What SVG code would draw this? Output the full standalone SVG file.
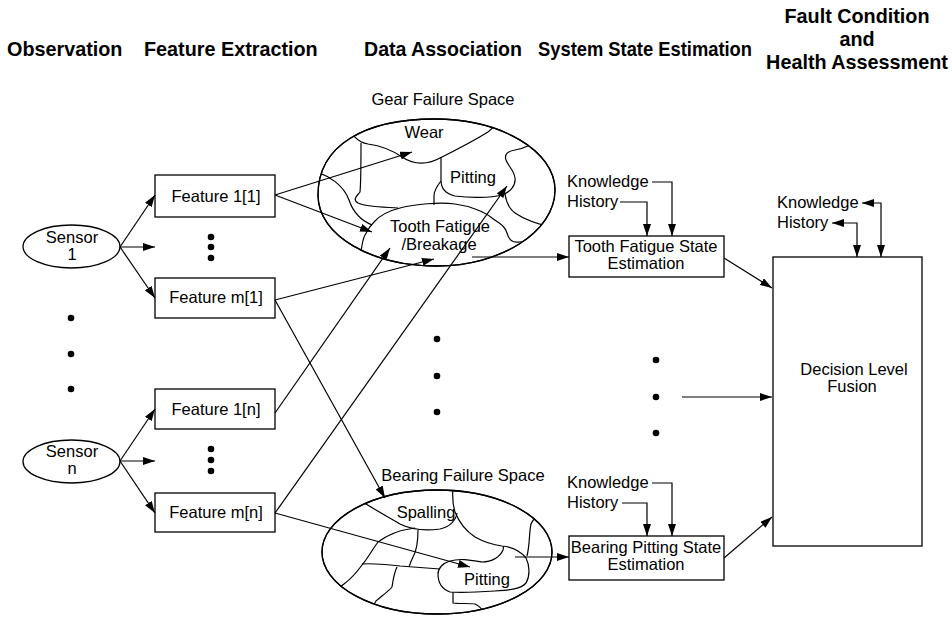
<svg xmlns="http://www.w3.org/2000/svg" width="952" height="619" viewBox="0 0 952 619">
  <style>
    .hdr { font-family: "Liberation Sans", Arial, sans-serif; font-size: 19.8px; font-weight: bold; fill: #000; }
    .lbl { font-family: "Liberation Sans", Arial, sans-serif; font-size: 16.5px; fill: #000; }
    .mid { text-anchor: middle; }
    .box { fill: #fff; stroke: #000; stroke-width: 1.3; }
    .shape { fill: #fff; stroke: #000; stroke-width: 1.3; }
    .region { fill: none; stroke: #000; stroke-width: 1.2; }
    .edge { fill: none; stroke: #000; stroke-width: 1.2; marker-end: url(#ah); }
    .edge2 { fill: none; stroke: #000; stroke-width: 1.2; marker-start: url(#ah); marker-end: url(#ah); }
    .dot { fill: #000; }
  </style>
  <defs>
    <marker id="ah" viewBox="0 0 12 8" refX="12" refY="4" markerWidth="12" markerHeight="8" markerUnits="userSpaceOnUse" orient="auto-start-reverse">
      <path d="M0,0 L12,4 L0,8 Z" fill="#000"/>
    </marker>
    <path id="gearShape" d="M318,195 C318,145 365,119 435,119 C501,119 555,151 555,190 C555,232 500,266 437,266 C372,266 318,236 318,195 Z"/>
    <ellipse id="bearingShape" cx="437" cy="552" rx="115" ry="62"/>
    <clipPath id="gearClip"><use href="#gearShape"/></clipPath>
    <clipPath id="bearingClip"><use href="#bearingShape"/></clipPath>
  </defs>

  <!-- column headings -->
  <g id="headings">
    <text class="hdr" x="7" y="56">Observation</text>
    <text class="hdr" x="144" y="56">Feature Extraction</text>
    <text class="hdr mid" x="443" y="56" textLength="158" lengthAdjust="spacingAndGlyphs">Data Association</text>
    <text class="hdr mid" x="645" y="56" textLength="214" lengthAdjust="spacingAndGlyphs">System State Estimation</text>
    <text class="hdr mid" x="857" y="23">Fault Condition</text>
    <text class="hdr mid" x="857" y="46">and</text>
    <text class="hdr mid" x="857" y="69">Health Assessment</text>
  </g>

  <!-- sensors -->
  <g id="sensor-1">
    <ellipse class="shape" cx="71.5" cy="246.5" rx="48.5" ry="21.5"/>
    <text class="lbl mid" x="72" y="243">Sensor</text>
    <text class="lbl mid" x="72" y="260">1</text>
  </g>
  <g id="sensor-n">
    <ellipse class="shape" cx="71.5" cy="461.5" rx="48.5" ry="21.5"/>
    <text class="lbl mid" x="72" y="457">Sensor</text>
    <text class="lbl mid" x="72" y="474">n</text>
  </g>
  <g id="sensor-dots">
    <circle class="dot" cx="71" cy="318" r="3.3"/>
    <circle class="dot" cx="71" cy="354" r="3.3"/>
    <circle class="dot" cx="71" cy="389" r="3.3"/>
  </g>

  <!-- features -->
  <g id="feature-1-1">
    <rect class="box" x="155" y="175" width="120" height="42"/>
    <text class="lbl mid" x="216" y="202">Feature 1[1]</text>
  </g>
  <g id="feature-m-1">
    <rect class="box" x="155" y="278" width="120" height="40"/>
    <text class="lbl mid" x="216" y="303">Feature m[1]</text>
  </g>
  <g id="feature-1-n">
    <rect class="box" x="155" y="389" width="120" height="40"/>
    <text class="lbl mid" x="216" y="415">Feature 1[n]</text>
  </g>
  <g id="feature-m-n">
    <rect class="box" x="155" y="493" width="120" height="39"/>
    <text class="lbl mid" x="216" y="518">Feature m[n]</text>
  </g>
  <g id="feature-dots">
    <circle class="dot" cx="211" cy="237" r="3.3"/>
    <circle class="dot" cx="211" cy="247" r="3.3"/>
    <circle class="dot" cx="211" cy="258" r="3.3"/>
    <circle class="dot" cx="211" cy="449" r="3.3"/>
    <circle class="dot" cx="211" cy="460" r="3.3"/>
    <circle class="dot" cx="211" cy="471" r="3.3"/>
  </g>

  <!-- gear failure space -->
  <g id="gear-failure-space">
    <text class="lbl mid" x="443" y="105">Gear Failure Space</text>
    <use href="#gearShape" class="shape"/>
    <g clip-path="url(#gearClip)">
      <path class="region" d="M345,122 C352,134 356,142 368,144 C382,146 392,150 402,157 C414,165 428,165 442,157 C458,149 475,140 488,132 C495,127 500,118 505,110"/>
      <path class="region" d="M361,143 C361,160 361,182 360,192 C357,196 352,199 358,203 C366,207 382,207 398,208"/>
      <path class="region" d="M310,170 C330,175 344,186 349,200 C353,212 360,220 372,225"/>
      <path class="region" d="M360,262 C361,250 362,240 365,235 C368,229 370,226 374,222 C380,215 388,211 400,208 C415,204 440,202 455,204 C470,206 485,212 492,218 C500,224 505,226 507,233 C509,240 512,243 520,242 C532,241 548,238 565,236"/>
      <path class="region" d="M441,157 L441,180 C441,188 446,194 455,196 C470,198 490,198 502,195 C510,192 516,186 515,178 C514,170 508,166 506,160 C504,154 508,151 515,150 C523,149 532,145 545,136"/>
      <path class="region" d="M441,181 C437,186 434,190 434,196 L434,205"/>
      <path class="region" d="M505,194 C506,201 508,208 515,213 C525,220 542,226 565,230"/>
    </g>
    <use href="#gearShape" fill="none" stroke="#000" stroke-width="1.3"/>
    <text class="lbl mid" x="424" y="138">Wear</text>
    <text class="lbl mid" x="473" y="183">Pitting</text>
    <text class="lbl mid" x="440" y="232">Tooth Fatigue</text>
    <text class="lbl mid" x="439" y="250">/Breakage</text>
  </g>

  <!-- bearing failure space -->
  <g id="bearing-failure-space">
    <text class="lbl mid" x="463" y="481">Bearing Failure Space</text>
    <use href="#bearingShape" class="shape"/>
    <g clip-path="url(#bearingClip)">
      <path class="region" d="M350,494 C368,506 385,515 400,524 C410,529 425,531 440,529 C450,527 456,520 457,513"/>
      <path class="region" d="M418,530 C418,540 417,550 413,557 C411,561 410,564 409,567"/>
      <path class="region" d="M415,528 C400,530 387,535 378,542 C372,550 368,558 362,565 C357,572 352,578 344,584 C338,589 332,592 322,598"/>
      <path class="region" d="M362,564 C375,563 390,565 400,566 C415,567 428,568 440,569"/>
      <path class="region" d="M397,567 C394,573 393,580 392,587 C388,592 380,597 376,601 C373,605 372,610 372,620"/>
      <path class="region" d="M454,480 C452,492 452,502 455,512 C459,522 466,531 475,537 C484,542 494,545 502,546 C513,547 521,552 526,558 C530,566 530,576 526,583 C521,589 510,590 495,591 C480,592 462,593 450,592 C442,589 438,582 438,574 C438,568 443,563 450,561 C460,558 470,560 482,562 C492,562 500,557 503,550 C504,547 503,546 502,546"/>
      <path class="region" d="M527,556 C530,544 529,532 531,524 C533,519 537,515 545,508"/>
      <path class="region" d="M453,592 L453,603 C460,604 468,603 475,604 C480,606 484,610 486,620"/>
    </g>
    <use href="#bearingShape" fill="none" stroke="#000" stroke-width="1.3"/>
    <text class="lbl mid" x="426" y="518">Spalling</text>
    <text class="lbl mid" x="487" y="585">Pitting</text>
  </g>

  <g id="association-dots">
    <circle class="dot" cx="437" cy="339" r="3.3"/>
    <circle class="dot" cx="437" cy="376" r="3.3"/>
    <circle class="dot" cx="437" cy="412" r="3.3"/>
  </g>

  <!-- state estimators -->
  <g id="tooth-fatigue-state">
    <rect class="box" x="569" y="236" width="155" height="41"/>
    <text class="lbl mid" x="646" y="252">Tooth Fatigue State</text>
    <text class="lbl mid" x="646" y="269">Estimation</text>
  </g>
  <g id="tooth-inputs">
    <text class="lbl" x="567" y="187">Knowledge</text>
    <text class="lbl" x="567" y="207">History</text>
  </g>
  <g id="bearing-pitting-state">
    <rect class="box" x="569" y="536" width="155" height="44"/>
    <text class="lbl mid" x="646" y="553">Bearing Pitting State</text>
    <text class="lbl mid" x="646" y="570">Estimation</text>
  </g>
  <g id="bearing-inputs">
    <text class="lbl" x="567" y="488">Knowledge</text>
    <text class="lbl" x="567" y="508">History</text>
  </g>
  <g id="state-dots">
    <circle class="dot" cx="656" cy="360" r="3.3"/>
    <circle class="dot" cx="656" cy="397" r="3.3"/>
    <circle class="dot" cx="656" cy="433" r="3.3"/>
  </g>

  <!-- decision fusion -->
  <g id="decision-level-fusion">
    <rect class="box" x="773" y="257" width="149" height="289"/>
    <text class="lbl mid" x="854" y="375">Decision Level</text>
    <text class="lbl mid" x="852" y="392">Fusion</text>
  </g>
  <g id="fusion-inputs">
    <text class="lbl" x="777" y="208">Knowledge</text>
    <text class="lbl" x="777" y="228">History</text>
  </g>

  <!-- connectors -->
  <g id="connectors">
    <path class="edge" d="M120,247 L155,195"/>
    <path class="edge" d="M120,247 L155,247"/>
    <path class="edge" d="M120,247 L155,298"/>
    <path class="edge" d="M120,461 L155,409"/>
    <path class="edge" d="M120,461 L155,461"/>
    <path class="edge" d="M120,461 L155,513"/>

    <path class="edge" d="M275,195 L412,152"/>
    <path class="edge" d="M275,195 L372,232"/>
    <path class="edge" d="M275,300 L434,259"/>
    <path class="edge" d="M275,300 L385,498"/>
    <path class="edge" d="M275,413 L390,248"/>
    <path class="edge" d="M275,513 L507,186"/>
    <path class="edge" d="M275,513 L470,567"/>

    <path class="edge" d="M472,257 L569,257"/>
    <path class="edge" d="M515,557 L569,557"/>

    <path class="edge" d="M652,182 L672,182 L672,236"/>
    <path class="edge" d="M620,202 L647,202 L647,236"/>
    <path class="edge" d="M652,483 L672,483 L672,536"/>
    <path class="edge" d="M622,503 L647,503 L647,536"/>

    <path class="edge" d="M724,258 L772,288"/>
    <path class="edge" d="M682,397 L772,397"/>
    <path class="edge" d="M724,558 L772,517"/>

    <path class="edge2" d="M862,203 L881,203 L881,257"/>
    <path class="edge2" d="M832,223 L857,223 L857,257"/>
  </g>
</svg>
